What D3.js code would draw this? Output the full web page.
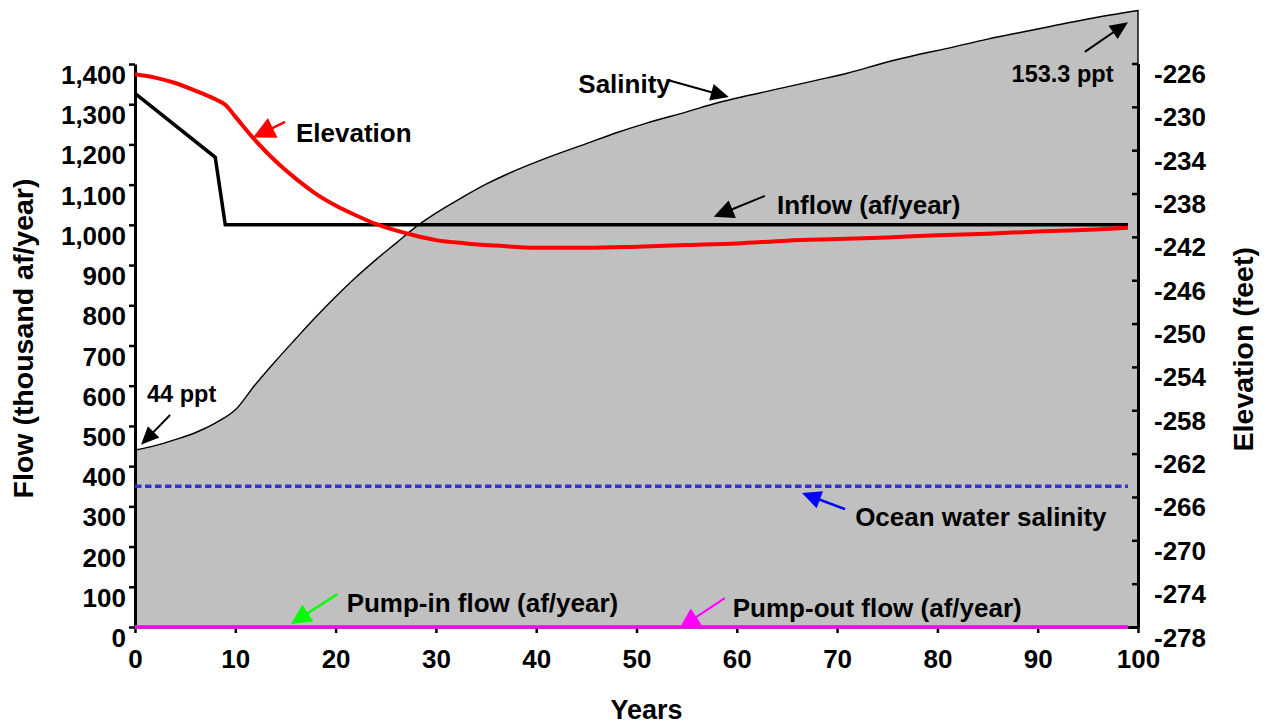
<!DOCTYPE html>
<html>
<head>
<meta charset="utf-8">
<script src="https://cdn.jsdelivr.net/npm/d3@7"></script>
<style>
    html, body { margin: 0; padding: 0; background: #fff; }
    svg { display: block; font-family: Arial, "Liberation Sans", sans-serif; font-weight: bold; }
</style>
</head>
<body>
<svg id="chart" width="1272" height="726"></svg>
<script>
// === DATA ===

// salinity (ppt), drawn on the flow axis at x10
const SAL_YEARS = [0, 2, 4, 6, 8, 10, 12, 14, 16, 18, 20, 22, 24, 26, 28, 30, 32, 35, 38, 41,
                   45, 48, 51, 55, 58, 61, 65, 68, 71, 75, 78, 81, 85, 88, 91, 95, 100];
const SALINITY = [44.0, 45.1, 46.6, 48.3, 50.7, 54.0, 60.3, 66.1, 71.6, 77.0, 82.1, 86.9, 91.3,
                  95.4, 99.5, 102.9, 105.9, 110.1, 113.6, 116.6, 120.2, 122.9, 125.3, 128.1,
                  130.3, 132.1, 134.3, 136.0, 137.7, 140.5, 142.3, 143.9, 146.2, 147.7, 149.2,
                  151.2, 153.3];

// lake elevation (feet), right axis
const ELEV_YEARS = [0, 2, 4, 6, 8, 9, 10, 12, 14, 16, 18, 20, 22, 24, 26, 28, 30, 33, 36, 40,
                    45, 50, 55, 60, 65, 70, 75, 80, 85, 90, 95, 99];
const ELEVATION = [-227.0, -227.3, -227.8, -228.5, -229.3, -229.8, -230.9, -233.1, -235.0,
                   -236.6, -238.0, -239.1, -240.0, -240.8, -241.4, -241.9, -242.3, -242.6,
                   -242.8, -243.0, -243.0, -242.9, -242.75, -242.6, -242.35, -242.2, -242.05,
                   -241.85, -241.7, -241.5, -241.35, -241.15];

// flows (thousand af/year), left axis
const INFLOW_YEARS = [0, 8, 9, 99];
const INFLOW = [1327, 1168, 1000, 1000];
const PUMP_YEARS = [0, 99];
const PUMP_IN = [0, 0];
const PUMP_OUT = [0, 0];
const OCEAN_YEARS = [0, 99];
const OCEAN_SAL = [35, 35];

const FLOW_TICKS = [0, 100, 200, 300, 400, 500, 600, 700, 800, 900, 1000, 1100, 1200, 1300, 1400];
const ELEV_TICKS = [-278, -274, -270, -266, -262, -258, -254, -250, -246, -242, -238, -234, -230, -226];
const YEAR_TICKS = [0, 10, 20, 30, 40, 50, 60, 70, 80, 90, 100];

const SAL_FACTOR = 10;

// annotation text + arrow (tail -> tip), in [year, flow] units
const NOTES = [
    { text: 'Salinity', at: [44.2, 1329], tail: [53.1, 1360], tip: [59.2, 1318], color: '#000', size: 26, head: [18, 17], lw: 2 },
    { text: 'Elevation', at: [16.05, 1207], tail: [14.96, 1256], tip: [11.76, 1217], color: '#ff0000', size: 26, head: [22, 22], lw: 2.5 },
    { text: 'Inflow (af/year)', at: [64.0, 1027], tail: [62.8, 1072], tip: [57.7, 1020], color: '#000', size: 26, head: [20, 19], lw: 2 },
    { text: '153.3 ppt', at: [87.4, 1356], tail: [94.7, 1430], tip: [99.0, 1504], color: '#000', size: 23.5, head: [18, 16], lw: 2 },
    { text: '44 ppt', at: [1.2, 560], tail: [3.5, 527], tip: [0.6, 453], color: '#000', size: 23.5, head: [18, 16], lw: 2 },
    { text: 'Ocean water salinity', at: [71.8, 251], tail: [70.8, 293], tip: [66.5, 333], color: '#0000ff', size: 26, head: [19, 18], lw: 2.5 },
    { text: 'Pump-in flow (af/year)', at: [21.1, 38.5], tail: [20.2, 82], tip: [15.55, 7.5], color: '#00ff00', size: 26, head: [20, 20], lw: 2.5 },
    { text: 'Pump-out flow (af/year)', at: [59.6, 25], tail: [58.8, 72], tip: [54.3, -2.5], color: '#ff00ff', size: 26, head: [20, 20], lw: 2 }
];

// === SCALES ===

const svg = d3.select('#chart');

const x = d3.scaleLinear().domain([0, 100]).range([135, 1138]);
const yFlow = d3.scaleLinear().domain([0, 1400]).range([627, 64]);
const yElev = d3.scaleLinear().domain([-278, -226]).range([627, 63.5]);

const zip = (xs, ys) => xs.map((d, i) => [d, ys[i]]);

// === SALINITY AREA ===

const salArea = d3.area()
    .x(d => x(d[0]))
    .y0(yFlow(0))
    .y1(d => yFlow(d[1] * SAL_FACTOR))
    .curve(d3.curveMonotoneX);

svg.append('path')
    .datum(zip(SAL_YEARS, SALINITY))
    .attr('d', salArea)
    .attr('fill', '#c0c0c0')
    .attr('stroke', '#000')
    .attr('stroke-width', 1.4);

// === AXES ===

const leftAxis = svg.append('g')
    .attr('transform', `translate(${x(0)},0)`)
    .call(d3.axisLeft(yFlow).tickValues(FLOW_TICKS).tickSize(6).tickSizeOuter(0)
        .tickPadding(3).tickFormat(d3.format(',')));

const rightAxis = svg.append('g')
    .attr('transform', `translate(${x(100)},0)`)
    .call(d3.axisRight(yElev).tickValues(ELEV_TICKS).tickSize(-6).tickSizeOuter(0)
        .tickPadding(16).tickFormat(d => d));

const bottomAxis = svg.append('g')
    .attr('transform', `translate(0,${yFlow(0)})`)
    .call(d3.axisBottom(x).tickValues(YEAR_TICKS).tickSize(6).tickSizeOuter(0));

[leftAxis, rightAxis, bottomAxis].forEach(a => {
    a.attr('font-family', null).attr('font-size', null);
    a.select('.domain').attr('stroke', '#000').attr('stroke-width', 3);
    a.selectAll('.tick line').attr('stroke', '#000').attr('stroke-width', 2.5);
    a.selectAll('.tick text')
        .attr('fill', '#000')
        .style('font-size', '26px')
        .style('font-weight', 'bold');
});
// labels sit a little below their ticks, as in the original
leftAxis.selectAll('.tick text').attr('dy', null).attr('y', 19.5);
rightAxis.selectAll('.tick text').attr('dy', null).attr('y', 19);
bottomAxis.selectAll('.tick text').attr('dy', null).attr('y', 41);

// === LINES ===

const flowLine = d3.line().x(d => x(d[0])).y(d => yFlow(d[1]));

svg.append('path')
    .datum(zip(OCEAN_YEARS, OCEAN_SAL.map(v => v * SAL_FACTOR)))
    .attr('d', flowLine)
    .attr('fill', 'none')
    .attr('stroke', '#3333cc')
    .attr('stroke-width', 3.5)
    .attr('stroke-dasharray', '6.5,3.5');

svg.append('path')
    .datum(zip(PUMP_YEARS, PUMP_IN))
    .attr('d', flowLine)
    .attr('fill', 'none')
    .attr('stroke', '#00ff00')
    .attr('stroke-width', 3.5);

svg.append('path')
    .datum(zip(PUMP_YEARS, PUMP_OUT))
    .attr('d', flowLine)
    .attr('fill', 'none')
    .attr('stroke', '#ff00ff')
    .attr('stroke-width', 3.5);

svg.append('path')
    .datum(zip(INFLOW_YEARS, INFLOW))
    .attr('d', flowLine)
    .attr('fill', 'none')
    .attr('stroke', '#000')
    .attr('stroke-width', 3.5)
    .attr('stroke-linejoin', 'miter');

svg.append('path')
    .datum(zip(ELEV_YEARS, ELEVATION))
    .attr('d', d3.line().x(d => x(d[0])).y(d => yElev(d[1])).curve(d3.curveMonotoneX))
    .attr('fill', 'none')
    .attr('stroke', '#ff0000')
    .attr('stroke-width', 4);

// === ANNOTATIONS ===

const px = p => [x(p[0]), yFlow(p[1])];

NOTES.forEach(n => {
    const [x1, y1] = px(n.tail);
    const [x2, y2] = px(n.tip);
    const len = Math.hypot(x2 - x1, y2 - y1);
    const ux = (x2 - x1) / len, uy = (y2 - y1) / len;
    const [hl, hw] = n.head;
    const bx = x2 - ux * hl, by = y2 - uy * hl;

    svg.append('line')
        .attr('x1', x1).attr('y1', y1)
        .attr('x2', bx + ux * 2).attr('y2', by + uy * 2)
        .attr('stroke', n.color)
        .attr('stroke-width', n.lw);

    svg.append('polygon')
        .attr('points', [
            [x2, y2],
            [bx - uy * hw / 2, by + ux * hw / 2],
            [bx + uy * hw / 2, by - ux * hw / 2]
        ].map(p => p.join(',')).join(' '))
        .attr('fill', n.color);

    const [tx, ty] = px(n.at);
    svg.append('text')
        .attr('x', tx).attr('y', ty)
        .style('font-size', n.size + 'px')
        .text(n.text);
});

// === AXIS TITLES ===

svg.append('text')
    .attr('transform', `translate(33, ${(yFlow(0) + yFlow(1400)) / 2 - 7}) rotate(-90)`)
    .attr('text-anchor', 'middle')
    .style('font-size', '28.5px')
    .text('Flow (thousand af/year)');

svg.append('text')
    .attr('transform', `translate(1253, ${(yElev(-278) + yElev(-226)) / 2 + 4}) rotate(-90)`)
    .attr('text-anchor', 'middle')
    .style('font-size', '28.5px')
    .text('Elevation (feet)');

svg.append('text')
    .attr('x', (x(0) + x(100)) / 2 + 10)
    .attr('y', 719)
    .attr('text-anchor', 'middle')
    .style('font-size', '27px')
    .text('Years');
</script>
</body>
</html>
